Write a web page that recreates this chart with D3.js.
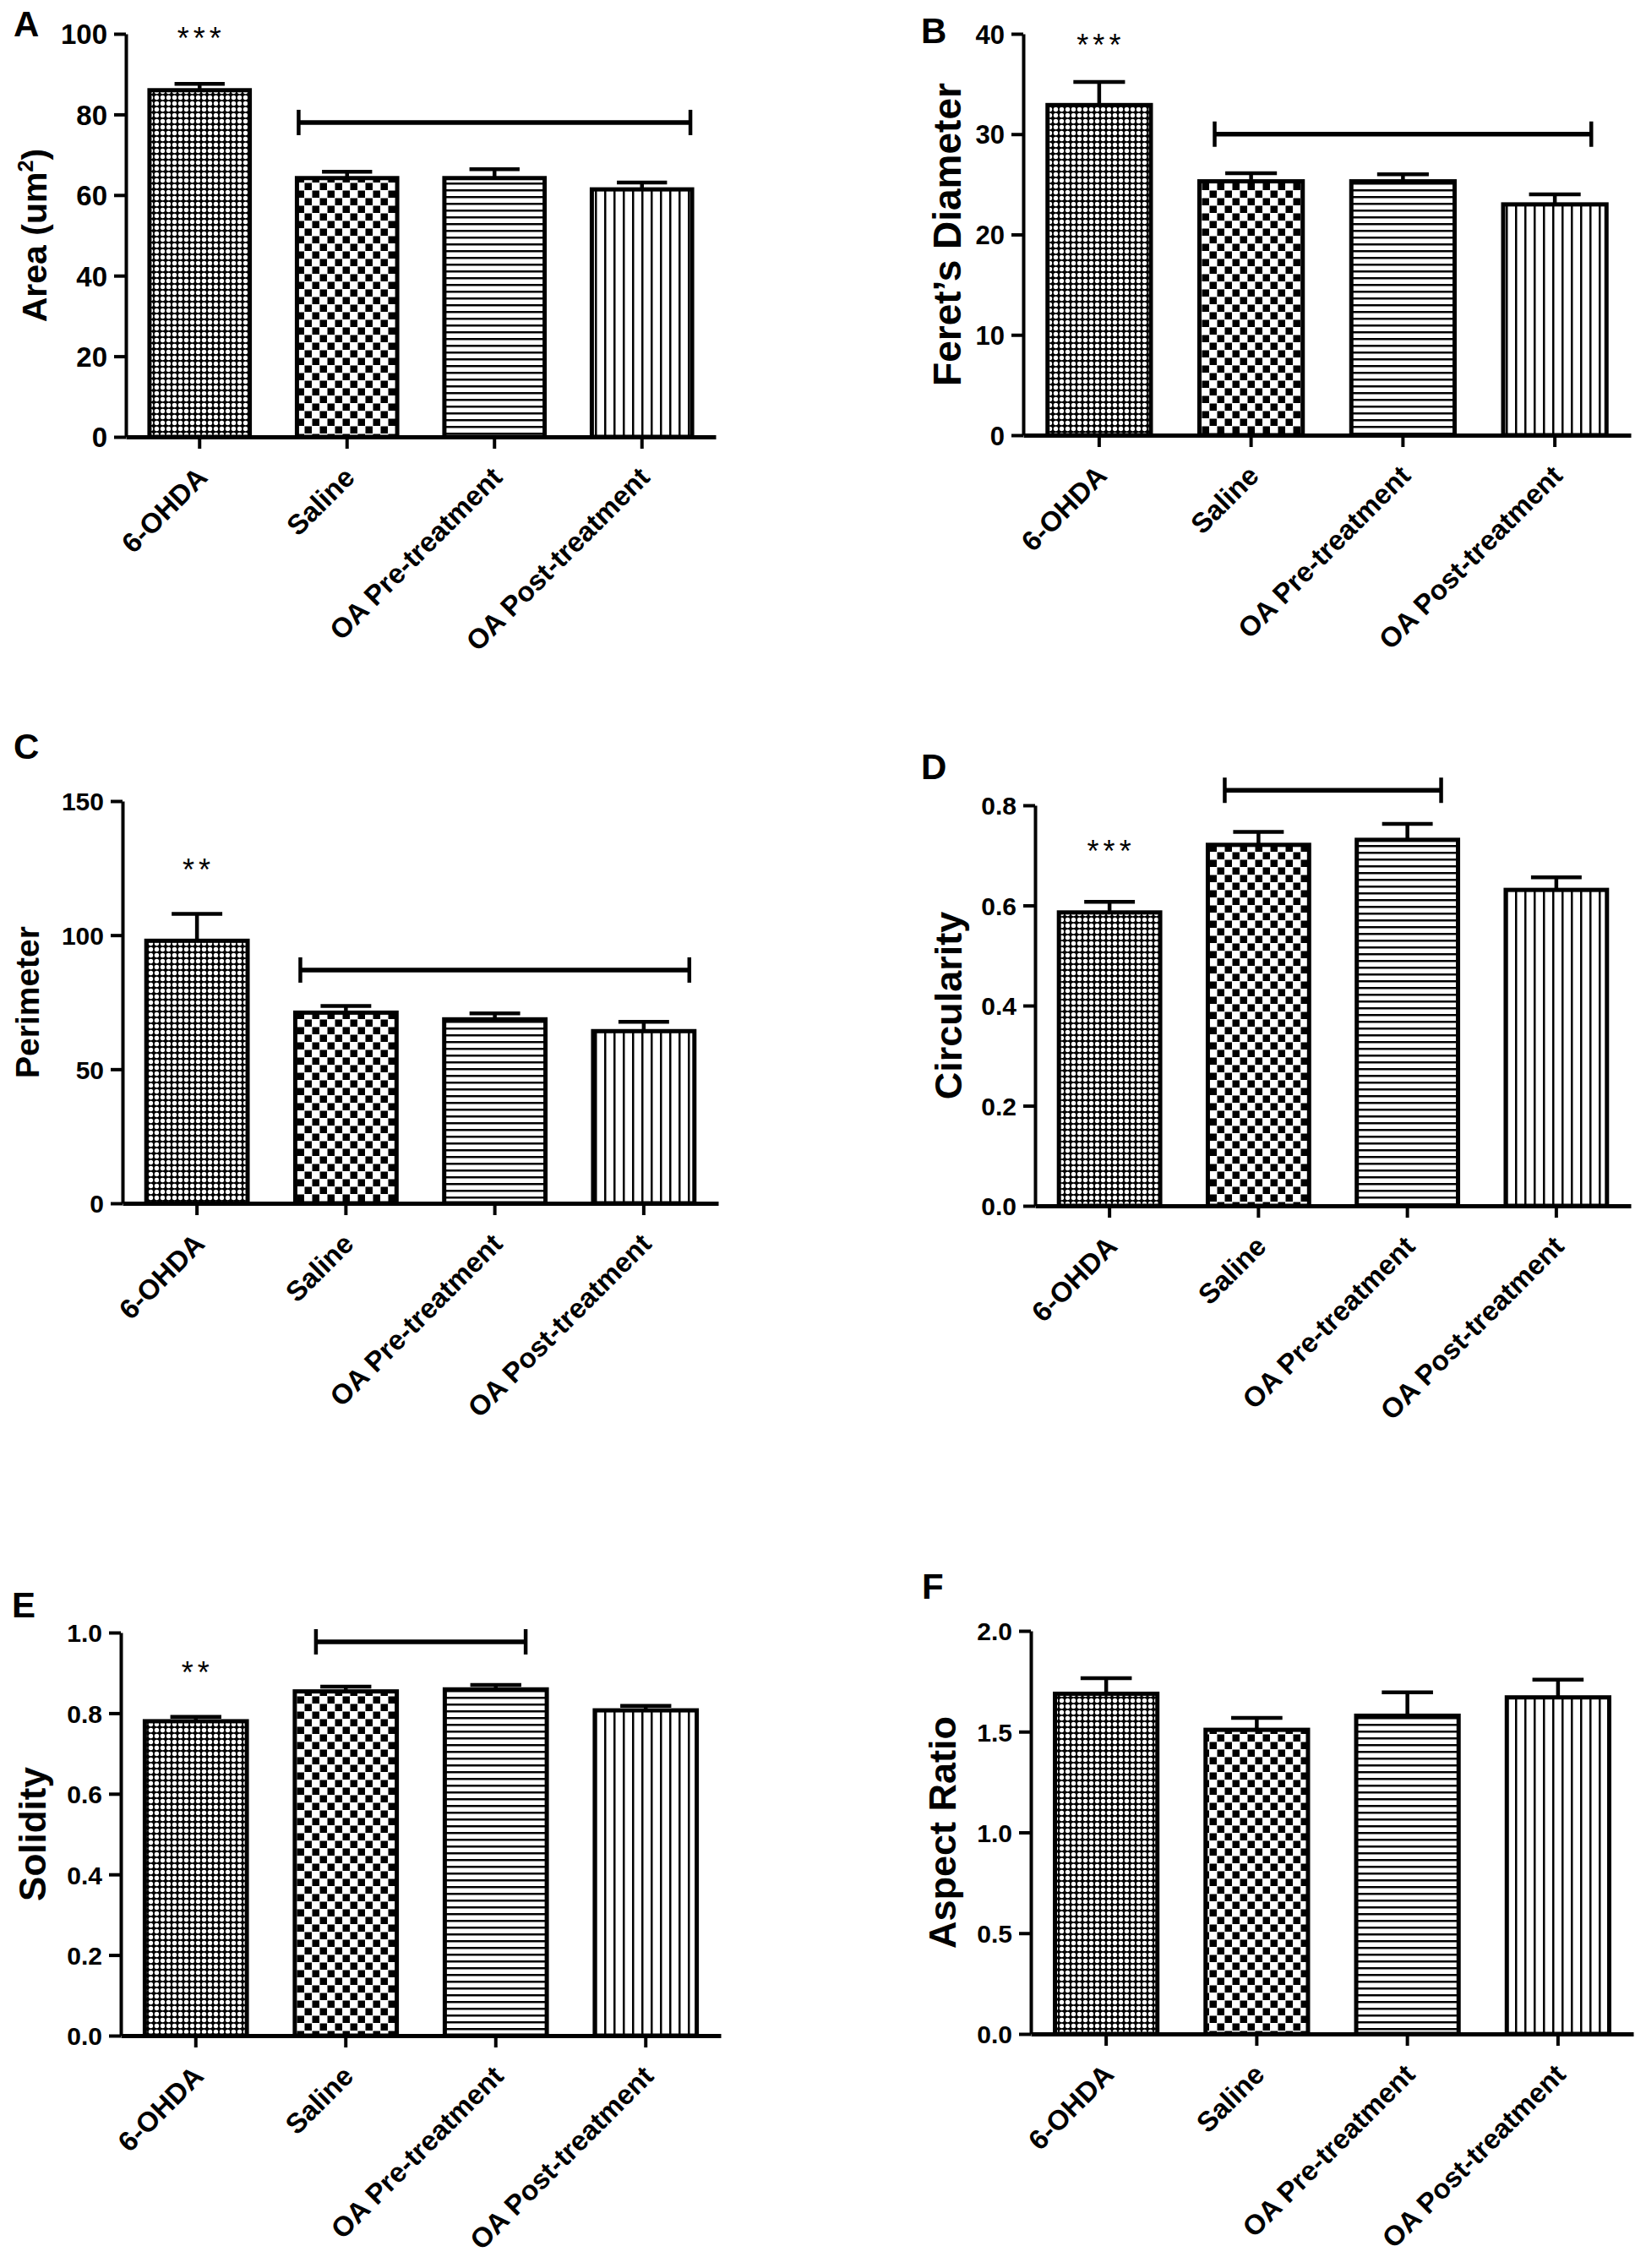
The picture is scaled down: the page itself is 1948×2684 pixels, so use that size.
<!DOCTYPE html>
<html>
<head>
<meta charset="utf-8">
<title>Neuron morphology after 6-OHDA and OA treatment</title>
<script src="https://cdn.jsdelivr.net/npm/d3@7"></script>
<style>
  html, body { margin: 0; padding: 0; background: #fff; }
  svg { display: block; }
  text { font-family: "Liberation Sans", Arial, Helvetica, sans-serif; fill: #000; }
</style>
</head>
<body>
<svg id="fig" width="1948" height="2684"></svg>
<script>
// Six bar panels (A-F), mean + SEM per group.

const GROUPS = ["6-OHDA", "Saline", "OA Pre-treatment", "OA Post-treatment"];

const AREA_MEAN        = [86.0, 64.2, 64.2, 61.4];
const AREA_SEM         = [1.6, 1.6, 2.2, 1.7];
const FERET_MEAN       = [32.9, 25.3, 25.3, 23.0];
const FERET_SEM        = [2.3, 0.8, 0.7, 1.0];
const PERIMETER_MEAN   = [97.9, 71.1, 68.6, 64.2];
const PERIMETER_SEM    = [10.0, 2.5, 2.2, 3.5];
const CIRCULARITY_MEAN = [0.586, 0.721, 0.731, 0.631];
const CIRCULARITY_SEM  = [0.021, 0.026, 0.032, 0.025];
const SOLIDITY_MEAN    = [0.780, 0.854, 0.859, 0.807];
const SOLIDITY_SEM     = [0.011, 0.012, 0.011, 0.011];
const ASPECT_MEAN      = [1.688, 1.509, 1.579, 1.670];
const ASPECT_SEM       = [0.077, 0.059, 0.116, 0.088];

const PANEL_LETTERS = ["A", "B", "C", "D", "E", "F"];
// title pieces: [main text, superscript, trailing text]
const Y_TITLES = [["Area (um", "2", ")"], ["Feret\u2019s Diameter", "", ""], ["Perimeter", "", ""],
                  ["Circularity", "", ""], ["Solidity", "", ""], ["Aspect Ratio", "", ""]];
const Y_MAX      = [100, 40, 150, 0.8, 1.0, 2.0];
const Y_STEP     = [20, 10, 50, 0.2, 0.2, 0.5];
const Y_DECIMALS = [0, 0, 0, 1, 1, 1];

// significance marks: bracket over groups [from..to] at a y value, stars over 6-OHDA
const BRACKET_FROM = [1, 1, 1, 1, 1, null];
const BRACKET_TO   = [3, 3, 3, 2, 2, null];
const BRACKET_AT   = [78, 30, 87, 0.83, 0.977, null];
const STARS        = ["***", "***", "**", "***", "**", ""];
const STARS_AT     = [100.5, 39.5, 126.6, 0.72, 0.916, null];

const SERIES = [
  [AREA_MEAN, AREA_SEM], [FERET_MEAN, FERET_SEM], [PERIMETER_MEAN, PERIMETER_SEM],
  [CIRCULARITY_MEAN, CIRCULARITY_SEM], [SOLIDITY_MEAN, SOLIDITY_SEM], [ASPECT_MEAN, ASPECT_SEM],
];

// where each panel sits on the page (pixels)
const LAYOUT = [
  { x0: 149,  x1: 847,  yTop: 40,   yBase: 517,  tick: 33, title: 41, tx: 40,   letter: [16, 43],     inset: 2 },
  { x0: 1211, x1: 1930, yTop: 40,   yBase: 515,  tick: 31, title: 46, tx: 1120, letter: [1090, 51],   inset: 18 },
  { x0: 145,  x1: 850,  yTop: 948,  yBase: 1424, tick: 30, title: 39, tx: 32,   letter: [16, 898],    inset: 6 },
  { x0: 1225, x1: 1930, yTop: 953,  yBase: 1427, tick: 30, title: 45, tx: 1122, letter: [1090, 922],  inset: 20 },
  { x0: 143,  x1: 853,  yTop: 1932, yBase: 2409, tick: 30, title: 44, tx: 38,   letter: [14, 1914],   inset: 25 },
  { x0: 1220, x1: 1933, yTop: 1930, yBase: 2407, tick: 30, title: 45, tx: 1115, letter: [1091, 1892], inset: 0 },
];

const PATTERN_IDS = ["pat-dots", "pat-check", "pat-hline", "pat-vline"];

const svg = d3.select("#fig");
svg.append("rect").attr("width", 1948).attr("height", 2684).attr("fill", "#fff");

function buildPatterns() {
  const defs = svg.append("defs");

  // fine dot grid (6-OHDA)
  const dots = defs.append("pattern").attr("id", PATTERN_IDS[0])
    .attr("patternUnits", "userSpaceOnUse").attr("width", 7).attr("height", 7);
  dots.append("rect").attr("width", 7).attr("height", 7).attr("fill", "#000");
  dots.append("circle").attr("cx", 3.5).attr("cy", 3.5).attr("r", 2.7).attr("fill", "#fff");

  // coarse checkerboard (Saline)
  const check = defs.append("pattern").attr("id", PATTERN_IDS[1])
    .attr("patternUnits", "userSpaceOnUse").attr("width", 18).attr("height", 18);
  check.append("rect").attr("width", 18).attr("height", 18).attr("fill", "#fff");
  check.append("rect").attr("x", 0.5).attr("y", 0.5).attr("width", 8.5).attr("height", 8.5).attr("fill", "#000");
  check.append("rect").attr("x", 9.5).attr("y", 9.5).attr("width", 8.5).attr("height", 8.5).attr("fill", "#000");

  // horizontal rules (pre-treatment)
  const h = defs.append("pattern").attr("id", PATTERN_IDS[2])
    .attr("patternUnits", "userSpaceOnUse").attr("width", 8).attr("height", 8);
  h.append("rect").attr("width", 8).attr("height", 8).attr("fill", "#fff");
  h.append("rect").attr("width", 8).attr("height", 2.5).attr("fill", "#000");

  // vertical rules (post-treatment)
  const v = defs.append("pattern").attr("id", PATTERN_IDS[3])
    .attr("patternUnits", "userSpaceOnUse").attr("width", 11).attr("height", 11);
  v.append("rect").attr("width", 11).attr("height", 11).attr("fill", "#fff");
  v.append("rect").attr("width", 2.5).attr("height", 11).attr("fill", "#000");
}

function buildPanel(i) {
  const L = LAYOUT[i];
  const [means, sems] = SERIES[i];
  const g = svg.append("g").attr("class", "panel");

  const x = d3.scaleBand().domain(GROUPS).range([L.x0, L.x1])
    .paddingInner(0.32).paddingOuter(0.16);
  const y = d3.scaleLinear().domain([0, Y_MAX[i]]).range([L.yBase, L.yTop]);
  const bw = x.bandwidth();

  const rows = GROUPS.map((name, k) => ({ name, mean: means[k], sem: sems[k], k }));

  // bars
  g.append("g").selectAll("rect").data(rows).join("rect")
    .attr("x", d => x(d.name))
    .attr("y", d => y(d.mean))
    .attr("width", bw)
    .attr("height", d => y(0) - y(d.mean))
    .attr("fill", d => `url(#${PATTERN_IDS[d.k]})`)
    .attr("stroke", "#000").attr("stroke-width", 5);

  // upper error bars
  const eb = g.append("g").attr("stroke", "#000").attr("stroke-width", 4.5);
  eb.selectAll("line.v").data(rows).join("line").attr("class", "v")
    .attr("x1", d => x(d.name) + bw / 2).attr("x2", d => x(d.name) + bw / 2)
    .attr("y1", d => y(d.mean)).attr("y2", d => y(d.mean + d.sem));
  eb.selectAll("line.c").data(rows).join("line").attr("class", "c")
    .attr("x1", d => x(d.name) + bw * 0.25).attr("x2", d => x(d.name) + bw * 0.75)
    .attr("y1", d => y(d.mean + d.sem)).attr("y2", d => y(d.mean + d.sem));

  // y axis
  const ticks = d3.range(0, Y_MAX[i] + Y_STEP[i] / 2, Y_STEP[i]);
  const yAxis = g.append("g").attr("transform", `translate(${L.x0},0)`)
    .call(d3.axisLeft(y).tickValues(ticks).tickSize(14).tickSizeOuter(0).tickPadding(8)
      .tickFormat(d3.format(`.${Y_DECIMALS[i]}f`)));
  yAxis.attr("font-family", null).attr("font-size", null);
  yAxis.select(".domain").attr("stroke-width", 4);
  yAxis.selectAll(".tick line").attr("stroke-width", 4);
  yAxis.selectAll(".tick text")
    .attr("font-size", L.tick).attr("font-weight", 700).attr("dy", "0.36em");

  // x axis, labels slanted at 45 degrees
  const xAxis = g.append("g").attr("transform", `translate(0,${L.yBase})`)
    .call(d3.axisBottom(x).tickSize(14).tickSizeOuter(0));
  xAxis.attr("font-family", null).attr("font-size", null);
  xAxis.select(".domain").attr("stroke-width", 5);
  xAxis.selectAll(".tick line").attr("stroke-width", 4);
  xAxis.selectAll(".tick text")
    .attr("x", null).attr("y", null).attr("dy", null)
    .attr("text-anchor", "end")
    .attr("font-size", 33).attr("font-weight", 700)
    .attr("transform", "translate(11,50) rotate(-45)");

  // y axis title
  const midY = (L.yTop + L.yBase) / 2;
  const [main, sup, tail] = Y_TITLES[i];
  const t = g.append("text")
    .attr("transform", `translate(${L.tx + L.title * 0.36},${midY}) rotate(-90)`)
    .attr("text-anchor", "middle")
    .attr("font-size", L.title).attr("font-weight", 700)
    .text(main);
  if (sup) {
    t.append("tspan").attr("font-size", L.title * 0.62).attr("dy", -L.title * 0.38).text(sup);
    t.append("tspan").attr("dy", L.title * 0.38).text(tail);
  }

  // panel letter
  g.append("text").attr("x", L.letter[0]).attr("y", L.letter[1])
    .attr("font-size", 42).attr("font-weight", 700)
    .text(PANEL_LETTERS[i]);

  // comparison bracket
  if (BRACKET_FROM[i] !== null) {
    const xa = x(GROUPS[BRACKET_FROM[i]]) + L.inset;
    const xb = x(GROUPS[BRACKET_TO[i]]) + bw - L.inset;
    const yb = y(BRACKET_AT[i]);
    const br = g.append("g").attr("stroke", "#000").attr("fill", "none");
    br.append("line").attr("x1", xa).attr("x2", xb).attr("y1", yb).attr("y2", yb)
      .attr("stroke-width", 5.5);
    [xa, xb].forEach(xx => br.append("line")
      .attr("x1", xx).attr("x2", xx).attr("y1", yb - 15).attr("y2", yb + 15)
      .attr("stroke-width", 4.5));
  }

  // stars over the 6-OHDA bar
  if (STARS[i]) {
    g.append("text")
      .attr("x", x(GROUPS[0]) + bw / 2 + 2)
      .attr("y", y(STARS_AT[i]) + 20)
      .attr("text-anchor", "middle")
      .attr("font-size", 36).attr("letter-spacing", 5)
      .text(STARS[i]);
  }
}

buildPatterns();
PANEL_LETTERS.forEach((_, i) => buildPanel(i));
</script>
</body>
</html>
